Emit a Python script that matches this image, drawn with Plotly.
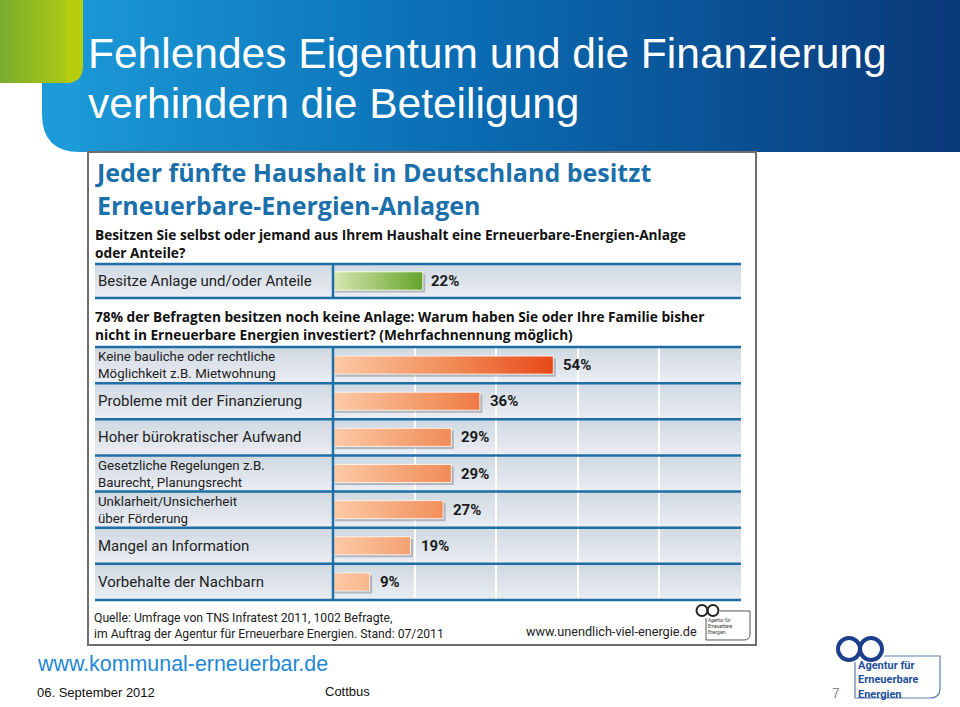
import plotly.graph_objects as go

W, H = 960, 707

# ---------------- data ----------------
owner_labels = ["Besitze Anlage und/oder Anteile"]
owner_values = [22]
reason_labels = [
    "Keine bauliche oder rechtliche<br>Möglichkeit z.B. Mietwohnung",
    "Probleme mit der Finanzierung",
    "Hoher bürokratischer Aufwand",
    "Gesetzliche Regelungen z.B.<br>Baurecht, Planungsrecht",
    "Unklarheit/Unsicherheit<br>über Förderung",
    "Mangel an Information",
    "Vorbehalte der Nachbarn",
]
reason_values = [54, 36, 29, 29, 27, 19, 9]
grid_ticks = [0, 20, 40, 60, 80, 100]

# ---------------- helpers ----------------
def px(x):
    return x / W


def py(y):
    return 1 - y / H


def hex2rgb(h):
    h = h.lstrip("#")
    return tuple(int(h[i:i + 2], 16) for i in (0, 2, 4))


def lerp_color(stops, t):
    for (p0, c0), (p1, c1) in zip(stops[:-1], stops[1:]):
        if p0 <= t <= p1:
            f = 0 if p1 == p0 else (t - p0) / (p1 - p0)
            a, b = hex2rgb(c0), hex2rgb(c1)
            r = [round(a[k] + (b[k] - a[k]) * f) for k in range(3)]
            return "rgb(%d,%d,%d)" % tuple(r)
    return stops[-1][1]


def P(x, y):
    return "%.5f,%.5f" % (px(x), py(y))


shapes = []
annotations = []


def rect(x0, y0, x1, y1, fill, line_color=None, line_width=0, layer="below"):
    shapes.append(dict(type="rect", xref="paper", yref="paper",
                       x0=px(x0), x1=px(x1), y0=py(y1), y1=py(y0),
                       fillcolor=fill, layer=layer,
                       line=dict(color=line_color or fill, width=line_width)))


def hline(x0, x1, y, color, width, layer="above"):
    shapes.append(dict(type="line", xref="paper", yref="paper",
                       x0=px(x0), x1=px(x1), y0=py(y), y1=py(y),
                       line=dict(color=color, width=width), layer=layer))


def vline(x, y0, y1, color, width, layer="above"):
    shapes.append(dict(type="line", xref="paper", yref="paper",
                       x0=px(x), x1=px(x), y0=py(y0), y1=py(y1),
                       line=dict(color=color, width=width), layer=layer))


def text(x, y, s, size, color, family, xanchor="left", yanchor="middle", align="left"):
    annotations.append(dict(xref="paper", yref="paper", x=px(x), y=py(y), text=s,
                            showarrow=False, xanchor=xanchor, yanchor=yanchor, align=align,
                            font=dict(size=size, color=color, family=family)))


ARIAL = "Liberation Sans, Arial, sans-serif"
DIN = "Roboto, DejaVu Sans, sans-serif"
DINB = "Open Sans, Roboto, sans-serif"

# ---------------- slide header ----------------
blue_stops = [(0, "#1c9bd8"), (0.45, "#0a6db4"), (1, "#0a3878")]
x_start, x_end = 42, 960
shapes.append(dict(type="path", xref="paper", yref="paper", layer="below",
                   path="M %s L %s L %s L %s Q %s %s Z" % (
                       P(42, 0), P(100, 0), P(100, 152), P(80, 152), P(42, 152), P(42, 114)),
                   fillcolor=blue_stops[0][1], line=dict(width=0)))
step = 6
x = 80
while x < x_end:
    t = (x - x_start) / (x_end - x_start)
    rect(x, 0, min(x + step + 1, x_end), 152, lerp_color(blue_stops, t))
    x += step

green_stops = [(0, "#7aad2e"), (1, "#bacf0c")]
for gx in range(0, 66, 3):
    rect(gx, 0, gx + 4, 83, lerp_color(green_stops, gx / 83))
shapes.append(dict(type="path", xref="paper", yref="paper", layer="below",
                   path="M %s L %s L %s Q %s %s L %s Z" % (
                       P(66, 0), P(83, 0), P(83, 66), P(83, 83), P(66, 83), P(66, 83)),
                   fillcolor=lerp_color(green_stops, 0.93), line=dict(width=0)))

text(86, 53, "Fehlendes Eigentum und die Finanzierung", 42.5, "white", ARIAL)
text(86, 103, "verhindern die Beteiligung", 42.5, "white", ARIAL)

# ---------------- infographic box ----------------
rect(88, 152, 756, 645, "white", line_color="#6e6e6e", line_width=2)

HEAD_BLUE = "#1b6fab"
text(93, 188.5, "<b>Jeder fünfte Haushalt in Deutschland besitzt<br>Erneuerbare-Energien-Anlagen</b>",
     25, HEAD_BLUE, DINB)
text(93, 243.5, "<b>Besitzen Sie selbst oder jemand aus Ihrem Haushalt eine Erneuerbare-Energien-Anlage"
     "<br>oder Anteile?</b>", 13.7, "#111111", DINB)
text(93, 325.5, "<b>78% der Befragten besitzen noch keine Anlage: Warum haben Sie oder Ihre Familie bisher"
     "<br>nicht in Erneuerbare Energien investiert? (Mehrfachnennung möglich)</b>",
     13.7, "#111111", DINB)

S1_TOP, S1_BOT = 264, 298
S2_TOP, S2_BOT = 347, 600
ROW_X0, ROW_X1, DIV_X = 95, 741, 333
n2 = len(reason_values)
row_h = (S2_BOT - S2_TOP) / n2

bg_stops = [(0, "#d1d9e3"), (1, "#e9edf2")]


def row_bg(y0, y1):
    nb = 8
    hgt = (y1 - y0) / nb
    for k in range(nb):
        rect(ROW_X0, y0 + k * hgt, ROW_X1, y0 + (k + 1) * hgt + 0.6,
             lerp_color(bg_stops, k / (nb - 1)))


row_bg(S1_TOP, S1_BOT)
for i in range(n2):
    row_bg(S2_TOP + i * row_h, S2_TOP + (i + 1) * row_h)

LINE_BLUE = "#1f6fa6"
for yy in (S1_TOP, S1_BOT):
    hline(ROW_X0, ROW_X1, yy, LINE_BLUE, 2.5)
vline(DIV_X, S1_TOP, S1_BOT, LINE_BLUE, 2.5)
for i in range(n2 + 1):
    hline(ROW_X0, ROW_X1, S2_TOP + i * row_h, LINE_BLUE, 2.5)
vline(DIV_X, S2_TOP, S2_BOT, LINE_BLUE, 2.5)

text(92, 618, "Quelle: Umfrage von TNS Infratest 2011, 1002 Befragte,", 12.2, "#222222", DIN)
text(92, 634, "im Auftrag der Agentur für Erneuerbare Energien. Stand: 07/2011", 12.2, "#222222", DIN)
text(524, 631, "www.unendlich-viel-energie.de", 12.7, "#222222", DIN)
for cx in (702, 713):
    shapes.append(dict(type="circle", xref="paper", yref="paper", layer="above",
                       x0=px(cx - 5.5), x1=px(cx + 5.5), y0=py(616), y1=py(605),
                       line=dict(color="#222222", width=2)))
shapes.append(dict(type="path", xref="paper", yref="paper", layer="above",
                   path="M %s L %s L %s Q %s %s L %s L %s" % (
                       P(706, 618), P(706, 640), P(744, 640), P(750, 640), P(750, 634),
                       P(750, 611), P(720, 611)),
                   line=dict(color="#555555", width=1)))
text(706, 626, "Agentur für<br>Erneuerbare<br>Energien", 4.5, "#333333", DIN)

# ---------------- slide footer ----------------
text(35, 664, "www.kommunal-erneuerbar.de", 21.4, "#1e88d6", ARIAL)
text(35, 692, "06. September 2012", 13, "#111111", ARIAL)
text(323, 691, "Cottbus", 13, "#111111", ARIAL)
text(836, 693, "7", 14, "#8a8a8a", ARIAL, xanchor="center")
LOGO_BLUE = "#1b3f8c"
for cx in (849, 871):
    shapes.append(dict(type="circle", xref="paper", yref="paper", layer="above",
                       x0=px(cx - 11), x1=px(cx + 11), y0=py(660), y1=py(638),
                       line=dict(color=LOGO_BLUE, width=4)))
shapes.append(dict(type="path", xref="paper", yref="paper", layer="above",
                   path="M %s L %s L %s Q %s %s L %s L %s" % (
                       P(855, 662), P(855, 698), P(930, 698), P(940, 698), P(940, 688),
                       P(940, 656), P(884, 656)),
                   line=dict(color="#5a7fb0", width=1.2)))
annotations.append(dict(xref="paper", yref="paper", x=px(856), y=py(680),
                        text="<b>Agentur für<br>Erneuerbare<br>Energien</b>", showarrow=False,
                        xanchor="left", yanchor="middle", align="left",
                        font=dict(size=11, color="#22509a", family=DIN)))

# ---------------- figure & bars ----------------
fig = go.Figure()

orange_scale = [[0, "#fccaa6"], [0.55, "#f08a55"], [1, "#e8481a"]]
green_scale = [[0, "#d8e8b2"], [1, "#64a42a"]]
shadow = "rgba(95,105,118,0.40)"

h2 = 0.25
for i, v in enumerate(reason_values):
    fig.add_trace(go.Scatter(
        x=[0.5, v + 0.6, v + 0.6, 0.5, 0.5],
        y=[i - h2 + 0.07, i - h2 + 0.07, i + h2 + 0.07, i + h2 + 0.07, i - h2 + 0.07],
        mode="lines", fill="toself", fillcolor=shadow, line=dict(width=0),
        xaxis="x", yaxis="y", hoverinfo="skip", showlegend=False))
    fig.add_trace(go.Scatter(
        x=[0, v, v, 0, 0], y=[i - h2, i - h2, i + h2, i + h2, i - h2],
        mode="lines", fill="toself",
        fillgradient=dict(type="horizontal", colorscale=orange_scale,
                          start=0, stop=max(reason_values)),
        line=dict(color="rgba(255,245,238,0.9)", width=1),
        xaxis="x", yaxis="y", name=reason_labels[i].replace("<br>", " "),
        hoverinfo="skip", showlegend=False))
    annotations.append(dict(xref="x", yref="y", x=v, y=i, text="<b>%d%%</b>" % v,
                            showarrow=False, xanchor="left", yanchor="middle", xshift=8,
                            font=dict(size=15, color="#1a1a1a", family=DIN)))
    annotations.append(dict(xref="paper", yref="y", x=px(96), y=i, text=reason_labels[i],
                            showarrow=False, xanchor="left", yanchor="middle", align="left",
                            font=dict(size=13.3 if "<br>" in reason_labels[i] else 15,
                                      color="#222222", family=DIN)))

h1 = 0.27
for i, v in enumerate(owner_values):
    fig.add_trace(go.Scatter(
        x=[0.5, v + 0.6, v + 0.6, 0.5, 0.5],
        y=[i - h1 + 0.07, i - h1 + 0.07, i + h1 + 0.07, i + h1 + 0.07, i - h1 + 0.07],
        mode="lines", fill="toself", fillcolor=shadow, line=dict(width=0),
        xaxis="x2", yaxis="y2", hoverinfo="skip", showlegend=False))
    fig.add_trace(go.Scatter(
        x=[0, v, v, 0, 0], y=[i - h1, i - h1, i + h1, i + h1, i - h1],
        mode="lines", fill="toself",
        fillgradient=dict(type="horizontal", colorscale=green_scale,
                          start=0, stop=max(owner_values)),
        line=dict(color="rgba(250,255,240,0.9)", width=1),
        xaxis="x2", yaxis="y2", name=owner_labels[i],
        hoverinfo="skip", showlegend=False))
    annotations.append(dict(xref="x2", yref="y2", x=v, y=i, text="<b>%d%%</b>" % v,
                            showarrow=False, xanchor="left", yanchor="middle", xshift=6,
                            font=dict(size=15, color="#1a1a1a", family=DIN)))
    annotations.append(dict(xref="paper", yref="y2", x=px(96), y=i, text=owner_labels[i],
                            showarrow=False, xanchor="left", yanchor="middle", align="left",
                            font=dict(size=15, color="#222222", family=DIN)))

x_dom = [px(DIV_X), px(ROW_X1)]
fig.update_layout(
    width=W, height=H,
    margin=dict(l=0, r=0, t=0, b=0),
    paper_bgcolor="white", plot_bgcolor="rgba(0,0,0,0)",
    showlegend=False,
    xaxis=dict(domain=x_dom, range=[0, 100], anchor="y",
               tickvals=grid_ticks, showgrid=True, gridcolor="rgba(255,255,255,0.95)",
               gridwidth=1.5, showticklabels=False, zeroline=False, showline=False,
               ticks="", fixedrange=True),
    yaxis=dict(domain=[py(S2_BOT), py(S2_TOP)], range=[n2 - 0.5, -0.5], anchor="x",
               showgrid=False, showticklabels=False, zeroline=False, showline=False,
               ticks="", fixedrange=True),
    xaxis2=dict(domain=x_dom, range=[0, 100], anchor="y2",
                showgrid=False, showticklabels=False, zeroline=False, showline=False,
                ticks="", fixedrange=True),
    yaxis2=dict(domain=[py(S1_BOT), py(S1_TOP)], range=[0.5, -0.5], anchor="x2",
                showgrid=False, showticklabels=False, zeroline=False, showline=False,
                ticks="", fixedrange=True),
    shapes=shapes,
    annotations=annotations,
)

fig.write_html("out.html", config={"displayModeBar": False},
               post_script="document.body.style.margin='0';document.body.style.overflow='hidden';")
